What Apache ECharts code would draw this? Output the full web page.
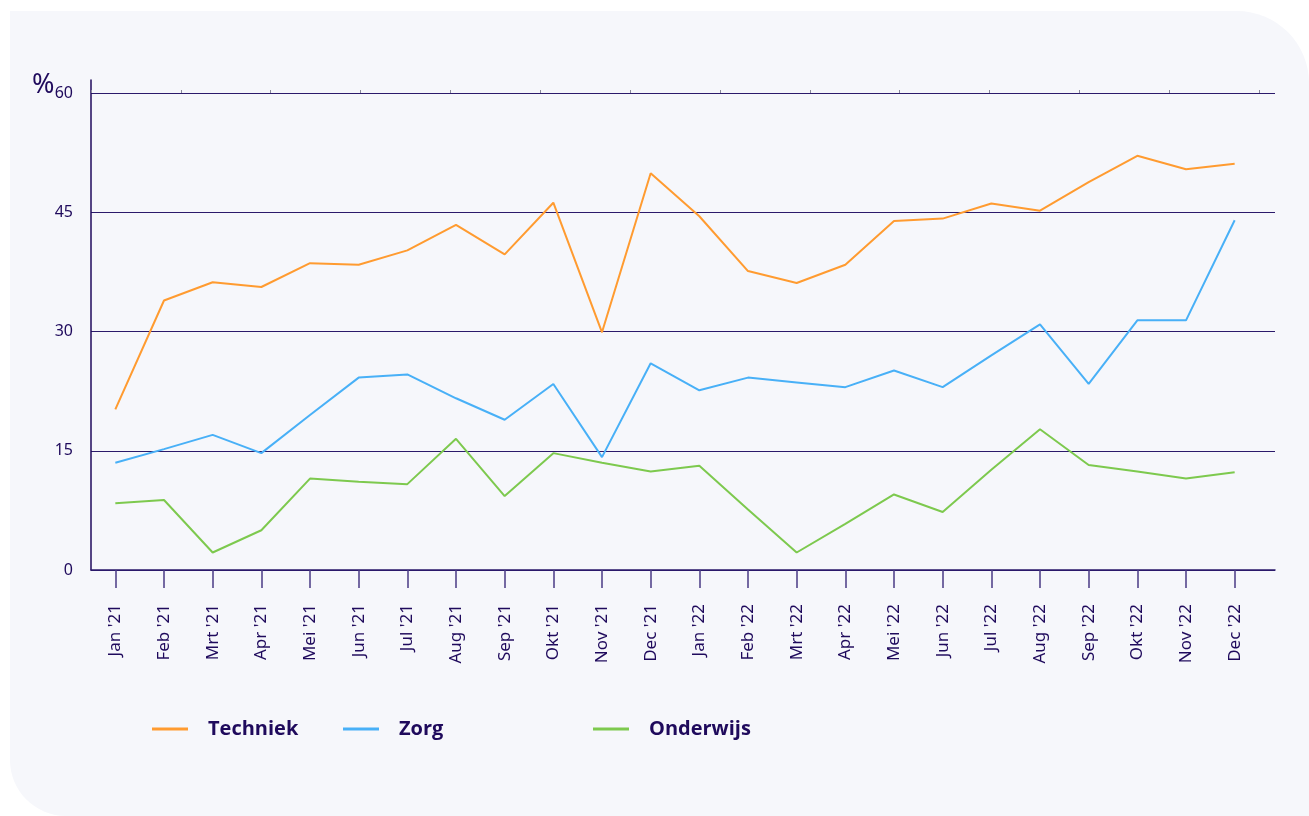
<!DOCTYPE html>
<html>
<head>
<meta charset="utf-8">
<script src="https://cdn.jsdelivr.net/npm/echarts@6/dist/echarts.min.js"></script>
<style>
  html, body { margin: 0; padding: 0; background: #ffffff; }
  #card { position: absolute; left: 10px; top: 11px; width: 1299px; height: 805px; background: #f6f7fb; border-radius: 0 72px 0 56px; }
  #chart { position: absolute; left: 0; top: 0; width: 1309px; height: 816px; }
</style>
</head>
<body>
<div id="card"></div>
<div id="chart"></div>
<script>
const categories = ["Jan '21","Feb '21","Mrt '21","Apr '21","Mei '21","Jun '21","Jul '21","Aug '21","Sep '21","Okt '21","Nov '21","Dec '21",
                    "Jan '22","Feb '22","Mrt '22","Apr '22","Mei '22","Jun '22","Jul '22","Aug '22","Sep '22","Okt '22","Nov '22","Dec '22"];
const techniek  = [20.2, 33.9, 36.2, 35.6, 38.6, 38.4, 40.2, 43.4, 39.7, 46.2, 29.9, 49.9,
                   44.5, 37.6, 36.1, 38.4, 43.9, 44.2, 46.1, 45.2, 48.8, 52.1, 50.4, 51.1];
const zorg      = [13.5, 15.2, 17.0, 14.7, 19.5, 24.2, 24.6, 21.6, 18.9, 23.4, 14.2, 26.0,
                   22.6, 24.2, 23.6, 23.0, 25.1, 23.0, 27.0, 30.9, 23.4, 31.4, 31.4, 44.0];
const onderwijs = [8.4, 8.8, 2.2, 5.0, 11.5, 11.1, 10.8, 16.5, 9.3, 14.7, 13.5, 12.4,
                   13.1, 7.6, 2.2, 5.8, 9.5, 7.3, 12.6, 17.7, 13.2, 12.4, 11.5, 12.3];
const yTicks = { min: 0, max: 60, interval: 15 };

const textColor = '#1f0a5c';
const axisColor = '#2b1a6b';
const font = '"Open Sans", "Noto Sans", sans-serif';
const tickFont = '"Noto Sans", sans-serif';

const chart = echarts.init(document.getElementById('chart'), null, { renderer: 'canvas' });

function legendFor(name, left) {
  return {
    data: [name], left: left, top: 719, orient: 'horizontal', padding: 0,
    icon: 'rect', itemWidth: 36, itemHeight: 3,
    textStyle: { color: textColor, fontSize: 20, fontWeight: 'bold', fontFamily: font, padding: [0, 0, 0, 15] },
    selectedMode: false
  };
}

chart.setOption({
  backgroundColor: 'transparent',
  animation: false,
  title: { text: '%', left: 32, top: 72, padding: 0, textStyle: { color: textColor, fontSize: 27, fontWeight: 'normal', fontFamily: tickFont } },
  legend: [legendFor('Techniek', 152), legendFor('Zorg', 343), legendFor('Onderwijs', 593)],
  grid: [
    { left: 91, right: 50, top: 93, bottom: 246 },
    { left: 91, right: 34, top: 93, bottom: 246 },
    { left: 91, right: 34, top: 80, bottom: 246 }
  ],
  xAxis: [
    { gridIndex: 0, type: 'category', data: categories, boundaryGap: true,
      axisLine: { show: false },
      axisTick: { show: true, alignWithLabel: true, length: 18, lineStyle: { color: '#4a3b85', width: 1.5 } },
      axisLabel: { rotate: 90, margin: 34, fontSize: 17, color: textColor, fontFamily: tickFont },
      splitLine: { show: false } },
    { gridIndex: 0, type: 'value', position: 'top', min: 0, max: 13, interval: 1,
      axisLine: { show: false },
      axisTick: { show: true, length: 3, lineStyle: { color: '#888899', width: 1 } },
      axisLabel: { show: false }, splitLine: { show: false } },
    { gridIndex: 1, type: 'value', min: 0, max: 1,
      axisLine: { show: true, lineStyle: { color: axisColor, width: 1.5 } },
      axisTick: { show: false }, axisLabel: { show: false }, splitLine: { show: false } },
    { gridIndex: 2, type: 'value', min: 0, max: 1, show: false }
  ],
  yAxis: [
    { gridIndex: 0, type: 'value', min: yTicks.min, max: yTicks.max, interval: yTicks.interval, show: false },
    { gridIndex: 1, type: 'value', min: yTicks.min, max: yTicks.max, interval: yTicks.interval,
      axisLine: { show: false }, axisTick: { show: false },
      axisLabel: { margin: 18, fontSize: 16, color: textColor, fontFamily: tickFont },
      splitLine: { show: true, lineStyle: { color: axisColor, width: 1.2 } } },
    { gridIndex: 2, type: 'value', min: 0, max: 1,
      axisLine: { show: true, lineStyle: { color: textColor, width: 1.5 } },
      axisTick: { show: false }, axisLabel: { show: false }, splitLine: { show: false } }
  ],
  series: [
    { name: 'Techniek', type: 'line', xAxisIndex: 0, yAxisIndex: 0, data: techniek, symbol: 'none',
      itemStyle: { color: '#ff9b30' }, lineStyle: { color: '#ff9b30', width: 2 } },
    { name: 'Zorg', type: 'line', xAxisIndex: 0, yAxisIndex: 0, data: zorg, symbol: 'none',
      itemStyle: { color: '#48b0f7' }, lineStyle: { color: '#48b0f7', width: 2 } },
    { name: 'Onderwijs', type: 'line', xAxisIndex: 0, yAxisIndex: 0, data: onderwijs, symbol: 'none',
      itemStyle: { color: '#7dc94e' }, lineStyle: { color: '#7dc94e', width: 2 } }
  ]
});
</script>
</body>
</html>
